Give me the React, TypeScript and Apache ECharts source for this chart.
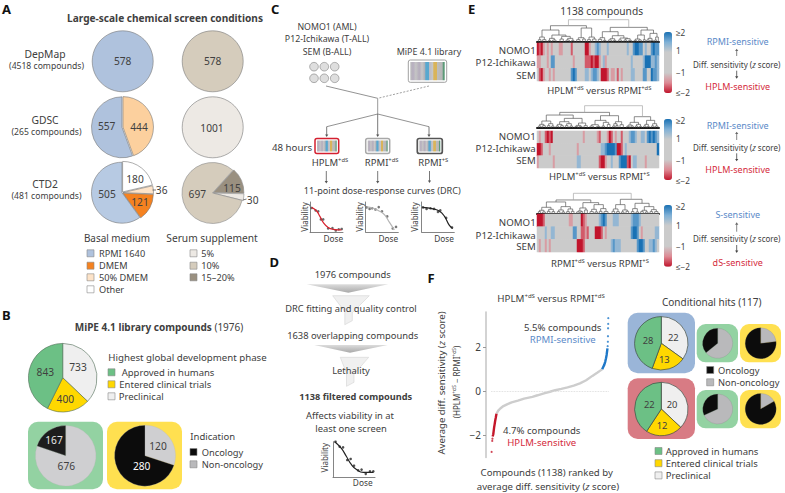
import React, { useEffect, useRef } from "react";
import * as echarts from "echarts";

const FONT = "'Noto Sans', sans-serif";
const INK = "#404040";

// Panel A
const depmapBasal = [578];
const depmapSerum = [578];
const gdscBasal = [444, 557];
const gdscSerum = [1001];
const ctd2Basal = [180, 36, 121, 505];
const ctd2Serum = [115, 30, 697];
const basalLegend = ["RPMI 1640", "DMEM", "50% DMEM", "Other"];
const serumLegend = ["5%", "10%", "15–20%"];
// Panel B
const mipePhase = [733, 400, 843];
const approvedIndication = [676, 167];
const clinicalIndication = [120, 280];
const phaseLegend = ["Approved in humans", "Entered clinical trials", "Preclinical"];
const indicationLegend = ["Oncology", "Non-oncology"];
// Panel C/D dose-response
const drcRedPts = [[5,80],[17,72],[25,69],[33,42],[40,42],[55,12],[68,13],[78,5],[87,9],[96,10]];
const drcRedCurve = [[5,82],[20,70],[30,52],[40,32],[55,15],[70,9],[95,7]];
const drcGrayPts = [[3,82],[12,77],[20,79],[30,75],[40,83],[50,69],[66,52],[83,12],[93,17]];
const drcGrayCurve = [[3,84],[23,79],[43,69],[58,57],[73,32],[88,7]];
const drcDarkPts = [[4,82],[15,77],[27,79],[38,77],[50,67],[57,72],[75,47],[93,15]];
const drcDarkCurve = [[2,82],[35,77],[55,69],[70,52],[85,22],[95,12]];
const drcFilterPts = [[6,100],[16,86],[24,84],[34,48],[42,51],[50,32],[60,19],[68,21],[78,9],[88,16],[96,16]];
const drcFilterCurve = [[4,100],[20,81],[32,58],[44,35],[56,21],[72,13],[96,13]];
// Panel E: one character per clustered column
const heatLevels: Record<string, number> = { ".": 0, a: -1.15, r: -1.6, R: -2, i: 1.15, b: 1.6, B: 2 };
const cellLines = ["NOMO1", "P12-Ichikawa", "SEM"];
const heatA = [
  "RrRa.a.a.." + ".aa....r.." + "....RRa..i" + "bi...i...." + ".....i..bB" + "Bbb.i..bBbb",
  "aa...a.bb." + "........a." + "....rrrRrR" + "Ra.ia....." + ".......i.." + "...iBBBiibi",
  ".rRa..a.a." + ".......bBb" + "....ii.ibb" + "i.RRRr.aa." + "r.a....ii." + "...bb..Bbbi",
];
const heatB = [
  ".a..rRrR.." + ".........." + "...a......" + "ar...aRr.a" + "..r...ibbi" + "..ii.bBbBbi",
  "RRr...a..." + ".........." + "a........." + "..iibBBBBb" + "RRr.i....." + "..........B",
  "a.......a." + ".........." + "ii........" + ".rRRa..i.." + ".bBBBrR.ii" + "....a......",
];
const heatC = [
  "RRRr......" + "......aa.." + "..Rra....." + ".ibBb...ii" + "i......ibb" + "bi.........",
  "....i..ii." + "........bb" + "..rrar...R" + "RRr.a....." + ".......bBB" + "b.a......ii",
  ".a..a.a..." + ".........." + "RRRr......" + ".......ibi" + "ii........" + "bBBb..iibi." ,
];
const treeA: any = [66,
  [48,[35,[14,[6,25,33],[6,38,48]],[20,[10,[4,55,62],[5,68,78]],[16,[8,90,100],[10,[5,108,118],[4,125,132]]]]],
      [41,[12,[6,140,150],[8,158,166]],[14,[6,172,182],[8,188,198]]]],
  [43,[30,[12,[7,205,215],[4,220,228]],[18,[9,[5,235,245],[4,250,258]],[11,[5,265,275],[9,[5,282,290],[4,296,305]]]]],
      [35,[20,[8,[4,312,320],[5,326,334]],[6,340,346]],[25,[10,[5,350,358],[4,362,370]],[14,[5,374,380],385]]]]];
const treeB: any = [66,
  [46,[38,[20,[10,[5,25,33],[6,38,46]],[12,[6,52,60],[5,65,72]]],
          [28,[18,[10,[5,78,86],[6,92,100]],[12,[6,106,114],[5,120,128]]],[14,[7,[4,135,143],[4,148,156]],[6,162,172]]]],
      [36,[22,[9,[5,180,190],[4,200,210]],[16,[5,216,224],[10,232,240]]],[18,[12,[5,248,255],[7,258,264]],[9,270,280]]]],
  [33,[16,[8,[4,290,298],[5,303,310]],[10,[5,316,323],[4,328,335]]],[22,[10,[5,341,348],[4,352,358]],[12,[5,364,372],[5,376,384]]]]];
const treeC: any = [60,
  [40,[34,[18,[9,[5,25,32],[4,38,46]],[12,[6,52,60],[5,66,74]]],[20,[10,[5,82,90],[4,96,104]],[13,[5,110,118],[6,124,132]]]],
      [32,[16,[7,[4,140,148],[5,152,158]],[10,164,172]],[26,[12,[5,180,190],[4,195,203]],[14,[6,208,216],[5,222,234]]]]],
  [42,[26,[13,[6,246,254],[5,260,268]],[10,[4,274,282],[6,288,296]]],[30,[14,[5,304,312],[4,318,326]],[20,[9,[5,332,340],[4,346,354]],[11,[5,360,368],[5,374,384]]]]]];
// Panel F: [rank, average differential sensitivity]
const rankRed = [[16,-2.05],[22,-1.95],[26,-1.8],[30,-1.65],[35,-1.5],[40,-1.35],[46,-1.2],[53,-1.02]];
const rankGray = [[53,-1.02],[70,-0.88],[90,-0.78],[120,-0.67],[160,-0.58],[200,-0.5],[260,-0.42],[320,-0.33],[400,-0.25],[450,-0.18],[520,-0.08],[570,-0.02],[620,0.05],[680,0.11],[740,0.18],[800,0.26],[860,0.36],[920,0.5],[980,0.7],[1030,0.85],[1060,0.95],[1075,1.0]];
const rankBlue = [[1075,1.0],[1085,1.1],[1095,1.2],[1105,1.35],[1112,1.5],[1118,1.65],[1122,1.8],[1126,1.95]];
const rankRedDots = [[6,-2.75],[12,-2.25],[14,-2.15]];
const rankBlueDots = [[1128,2.05],[1130,2.25],[1131,2.5],[1132,2.86],[1133,3.06],[1134,3.32]];
const yTicksF = [-2, 0, 2];
// Panel F pies
const hitsRpmi = [22, 13, 28];
const hitsHplm = [20, 12, 22];
const hitsRpmiApproved = [18, 10];
const hitsRpmiClinical = [3, 10];
const hitsHplmApproved = [15, 7];
const hitsHplmClinical = [2, 10];

const C = {
  blue: "#afc2dd", orange: "#f58220", paleOrange: "#fcd09e", peach: "#fde3c8", white: "#ffffff",
  tan: "#d5ccbc", pale: "#ede9e4", darkTan: "#9a9080",
  green: "#6cc085", yellow: "#ffd800", prec: "#efefef", gray: "#cfcfd1", black: "#0c0c0c",
  bgGreen: "#93d2a2", bgYellow: "#ffe050", bgBlue: "#9ab5d8", bgRed: "#d87b84",
  red: "#d42a3c", sens: "#5b8ac8",
};

function sup(parts: (string | [string])[], size: number, extra: any = {}) {
  const rich = {
    n: { fontSize: size, fontFamily: FONT, fill: extra.fill || INK, fontWeight: extra.fontWeight || "normal" },
    s: { fontSize: size * 0.62, fontFamily: FONT, fill: extra.fill || INK, padding: [0, 0, size * 0.5, 0] },
    i: { fontSize: size, fontFamily: FONT, fill: extra.fill || INK, fontStyle: "italic" },
    b: { fontSize: size, fontFamily: FONT, fill: extra.fill || INK, fontWeight: "bold" },
  };
  const text = parts.map((p) => (Array.isArray(p) ? `{s|${p[0]}}` : p.startsWith("~") ? `{i|${p.slice(1)}}` : p.startsWith("*") ? `{b|${p.slice(1)}}` : `{n|${p}}`)).join("");
  return { text, rich };
}

function txt(x: number, y: number, text: any, o: any = {}) {
  const size = o.size ?? 9.4;
  const style: any = {
    fontSize: size, fontFamily: FONT, fill: o.fill ?? INK, fontWeight: o.weight ?? "normal",
    align: o.align ?? "center", verticalAlign: "middle",
  };
  if (typeof text === "string") style.text = text;
  else { style.text = text.text; style.rich = text.rich; }
  return { type: "text", x, y, rotation: o.rotate ?? 0, z: 100, silent: true, style };
}
const rectEl = (x: number, y: number, w: number, h: number, fill: any, o: any = {}) => ({
  type: "rect", z: o.z ?? -1, silent: true, shape: { x, y, width: w, height: h, r: o.r ?? 0 },
  style: { fill, stroke: o.stroke ?? null, lineWidth: o.lw ?? 0 },
});
const lineEl = (x1: number, y1: number, x2: number, y2: number, stroke = "#777", o: any = {}) => ({
  type: "line", z: 5, silent: true, shape: { x1, y1, x2, y2 },
  style: { stroke, lineWidth: o.lw ?? 0.8, lineDash: o.dash ?? null },
});
const arrow = (x: number, y1: number, y2: number, stroke = "#555") => {
  const d = y2 > y1 ? 1 : -1;
  return [
    lineEl(x, y1, x, y2 - d * 2, stroke),
    { type: "polygon", z: 5, silent: true, shape: { points: [[x - 1.6, y2 - d * 2.4], [x + 1.6, y2 - d * 2.4], [x, y2]] }, style: { fill: stroke } },
  ];
};
const swatch = (x: number, y: number, fill: string, stroke = "#888") => rectEl(x, y - 3.5, 7, 7, fill, { stroke, lw: 0.6, z: 5 });

function plate(x: number, y: number, w: number, h: number, border: string, lw: number) {
  const stops: [number, string][] = [
    [0, "#bdbdbd"], [0.08, "#b7aec0"], [0.16, "#c5c5c5"], [0.26, "#b4acbc"], [0.34, "#c8c8c8"], [0.42, "#b0b0b8"],
    [0.45, "#58a8cf"], [0.53, "#58a8cf"], [0.55, "#b9b9c4"], [0.66, "#c8c8c8"], [0.68, "#d9b45a"], [0.77, "#d9b45a"],
    [0.79, "#bdbdbd"], [0.93, "#b6b6b6"], [0.95, "#5c9a78"], [1, "#5c9a78"],
  ];
  const colorStops = stops.map(([offset, color]) => ({ offset, color }));
  return [
    rectEl(x, y, w, h, "#fff", { r: 2, stroke: border, lw, z: 4 }),
    rectEl(x + 2, y + 2, w - 4, h - 4, new echarts.graphic.LinearGradient(0, 0, 1, 0, colorStops), { z: 5 }),
  ];
}

function funnel(xa: number, xb: number, xt: number, yt: number, yb: number, top: number) {
  const band = new echarts.graphic.LinearGradient(0, 0, 0, 1, [{ offset: 0, color: "#dcdcdc" }, { offset: 1, color: "#a9a9a9" }]);
  return [
    { type: "polygon", z: 3, silent: true, shape: { points: [[xa, top], [xb, top], [xt, yt]] }, style: { fill: band } },
    {
      type: "polygon", z: 3, silent: true,
      shape: { points: [[xa + 26, yb], [xb - 19, yb], [xt + 4, yb + 17], [xt + 4, yb + 25], [xt - 3.5, yb + 29], [xt - 3.5, yb + 16]] },
      style: { fill: "#f0f0f0", stroke: "#d4d4d4", lineWidth: 0.6 },
    },
  ];
}

function flatten(node: any, out: number[][]): [number, number] {
  if (typeof node === "number") return [node, 0];
  const [h, l, r] = node;
  const [xl, hl] = flatten(l, out);
  const [xr, hr] = flatten(r, out);
  out.push([xl, xr, h, hl, hr]);
  return [(xl + xr) / 2, h];
}

export default function App() {
  const ref = useRef<HTMLDivElement>(null);
  useEffect(() => {
    if (!ref.current) return;
    const chart = echarts.init(ref.current, null, { renderer: "svg" });
    const series: any[] = [];
    const grids: any[] = [];
    const xAxes: any[] = [];
    const yAxes: any[] = [];
    const visualMaps: any[] = [];
    const g: any[] = [];

    const pie = (cx: number, cy: number, r: number, values: number[], colors: string[], o: any = {}) => {
      series.push({
        type: "pie", center: [cx, cy], radius: [0, r], startAngle: o.start ?? 90, clockwise: true,
        silent: true, animation: false, label: { show: false }, labelLine: { show: false }, emphasis: { disabled: true },
        selectedMode: "multiple", selectedOffset: o.offset ?? 1,
        select: { itemStyle: { borderColor: o.border ?? "#777", borderWidth: o.lw ?? 0.6 } },
        itemStyle: { borderColor: o.border ?? "#777", borderWidth: o.lw ?? 0.6 },
        data: values.map((value, i) => ({ value, selected: !!(o.sel && o.sel[i]), itemStyle: { color: colors[i] } })),
      });
    };
    const addGrid = (left: number, top: number, width: number, height: number) => {
      grids.push({ left, top, width, height, containLabel: false });
      return grids.length - 1;
    };
    const drc = (left: number, top: number, width: number, height: number, pts: number[][], curve: number[][], col: string, dot: string) => {
      const i = addGrid(left, top, width, height);
      const ax = { type: "value", min: 0, max: 100, splitLine: { show: false }, axisTick: { show: false }, axisLabel: { show: false }, axisLine: { show: true, onZero: false, lineStyle: { color: "#666", width: 0.8 } } };
      xAxes.push({ ...ax, gridIndex: i });
      yAxes.push({ ...ax, gridIndex: i });
      series.push({ type: "line", xAxisIndex: i, yAxisIndex: i, data: curve, smooth: true, showSymbol: false, silent: true, lineStyle: { color: col, width: 1.2 } });
      series.push({ type: "scatter", xAxisIndex: i, yAxisIndex: i, data: pts, symbolSize: 2.6, silent: true, itemStyle: { color: dot } });
    };
    const heat = (top: number, rows: string[], height: number, barTop: number, barH: number) => {
      const i = addGrid(537, top, 122, height);
      const cols = rows[0].split("").map((_, c) => String(c));
      const cat = { type: "category", show: false, splitLine: { show: false } };
      xAxes.push({ ...cat, gridIndex: i, data: cols });
      yAxes.push({ ...cat, gridIndex: i, data: [...cellLines].reverse() });
      const data: number[][] = [];
      rows.forEach((row, r) => row.split("").forEach((ch, c) => data.push([c, 2 - r, heatLevels[ch]])));
      visualMaps.push({
        type: "continuous", min: -2, max: 2, calculable: false, hoverLink: false, padding: 0, itemWidth: 8, itemHeight: barH,
        left: 664, top: barTop, seriesIndex: series.length, text: null, textStyle: { fontSize: 0 }, showLabel: false,
        inRange: { color: ["#c1152c", "#dd8a94", "#cbcbcb", "#cbcbcb", "#cbcbcb", "#7fb0d6", "#1a71b4"] },
      });
      series.push({ type: "heatmap", xAxisIndex: i, yAxisIndex: i, data, silent: true, progressive: 0, itemStyle: { borderWidth: 0 }, emphasis: { disabled: true } });
    };
    const dendro = (base: number, tree: any) => {
      const H = 22;
      const i = addGrid(537, base - H, 122, H);
      xAxes.push({ type: "value", gridIndex: i, min: 21, max: 387, splitLine: { show: false }, axisTick: { show: false }, axisLabel: { show: false }, axisLine: { show: true, lineStyle: { color: "#1a1a1a", width: 2 } } });
      yAxes.push({ type: "value", gridIndex: i, min: 0, max: 66, show: false, splitLine: { show: false } });
      const links: number[][] = [];
      flatten(tree, links);
      series.push({
        type: "custom", xAxisIndex: i, yAxisIndex: i, silent: true, data: links, clip: false,
        encode: { x: [0, 1], y: [2] },
        renderItem: (_: any, api: any) => {
          const p = (x: number, h: number) => api.coord([x, h]);
          const xl = api.value(0), xr = api.value(1), h = api.value(2), hl = api.value(3), hr = api.value(4);
          return {
            type: "polyline",
            shape: { points: [p(xl, hl), p(xl, h), p(xr, h), p(xr, hr)] },
            style: { fill: "none", stroke: h >= 55 ? "#a8a8a8" : "#5a5a5a", lineWidth: 0.7 },
          };
        },
      });
    };

    // ---------- Panel A
    g.push(txt(2, 9, "A", { size: 13, weight: "bold", align: "left", fill: "#111" }));
    g.push(txt(165, 18, "Large-scale chemical screen conditions", { size: 10.1, weight: "bold" }));
    const names: [string, string, number][] = [["DepMap", "(4518 compounds)", 54], ["GDSC", "(265 compounds)", 120], ["CTD2", "(481 compounds)", 184]];
    names.forEach(([a, b, y]) => { g.push(txt(45, y, a, { size: 10.3 })); g.push(txt(46.5, y + 12, b, { size: 8.6 })); });
    pie(122.7, 61.3, 30.5, depmapBasal, [C.blue]);
    pie(212.7, 61.3, 30.5, depmapSerum, [C.tan]);
    pie(122, 127.3, 30.5, gdscBasal, [C.paleOrange, C.blue], { sel: [true, false] });
    pie(212.7, 127.3, 30.5, gdscSerum, [C.pale]);
    pie(122, 192.7, 30.5, ctd2Basal, [C.white, C.peach, C.orange, "#b7cae3"], { sel: [true, true, true, false] });
    pie(212.5, 193, 30.5, ctd2Serum, [C.darkTan, C.pale, C.tan], { start: 48, sel: [true, true, false], border: "#8a8a8a" });
    const num = (x: number, y: number, v: number, o: any = {}) => g.push(txt(x, y, String(v), { size: 10.2, ...o }));
    num(122.7, 61, depmapBasal[0]); num(212.7, 61, depmapSerum[0]);
    num(106.7, 126, gdscBasal[1]); num(139, 127, gdscBasal[0]); num(212, 127.7, gdscSerum[0]);
    num(135, 179, ctd2Basal[0]); num(161.7, 190, ctd2Basal[1]); num(140, 202, ctd2Basal[2]); num(107, 194, ctd2Basal[3]);
    num(197.3, 194, ctd2Serum[2]); num(232, 188, ctd2Serum[0]); num(252.7, 200, ctd2Serum[1]);
    g.push(lineEl(152.5, 190, 156, 190, "#555"), lineEl(243, 200, 246.5, 199, "#555"));
    g.push(txt(117, 237.7, "Basal medium", { size: 9.9 }), txt(212, 238, "Serum supplement", { size: 10.2 }));
    const rowsA = [253.3, 265.7, 277.3, 289.3];
    [C.blue, C.orange, C.peach, C.white].forEach((c, i) => { g.push(swatch(87, rowsA[i], c)); g.push(txt(99, rowsA[i], basalLegend[i], { align: "left", size: 9.2 })); });
    [C.pale, C.tan, C.darkTan].forEach((c, i) => { g.push(swatch(190, rowsA[i], c)); g.push(txt(201.3, rowsA[i], serumLegend[i], { align: "left", size: 9.2 })); });

    // ---------- Panel B
    g.push(txt(2, 315, "B", { size: 13, weight: "bold", align: "left", fill: "#111" }));
    g.push(txt(159, 327.3, sup(["*MiPE 4.1 library compounds", " (1976)"], 10), { size: 10 }));
    pie(62.7, 377.7, 34.3, mipePhase, [C.prec, C.yellow, C.green], { border: "#4f6b55" });
    num(78, 367, mipePhase[0]); num(65.3, 399.3, mipePhase[1]); num(45.3, 372.3, mipePhase[2]);
    g.push(txt(108.3, 357.3, "Highest global development phase", { size: 9.7, align: "left" }));
    const phaseX = [121.7, 119.3, 118.7];
    [C.green, C.yellow, C.prec].forEach((c, i) => { g.push(swatch(108, 372.3 + i * 12, c)); g.push(txt(phaseX[i], 372.3 + i * 12, phaseLegend[i], { align: "left", size: 9.5 })); });
    g.push(rectEl(28, 421.7, 75, 67.6, C.bgGreen, { r: 10 }), rectEl(107, 421.7, 75, 67.6, C.bgYellow, { r: 10 }));
    pie(65.7, 455.7, 30.3, approvedIndication, [C.gray, "#1d1d1d"], { border: "#b9b9b9", lw: 0.3 });
    pie(145, 455.7, 30.5, clinicalIndication, [C.gray, C.black], { border: "#b9b9b9", lw: 0.3 });
    num(54, 440.3, approvedIndication[1], { fill: "#e8e8e8" }); num(66.3, 465.7, approvedIndication[0]);
    num(158, 446, clinicalIndication[0]); num(141.7, 465.7, clinicalIndication[1], { fill: "#fff" });
    g.push(txt(190.3, 436.7, "Indication", { size: 9.5, align: "left" }));
    [C.black, "#b9b9bb"].forEach((c, i) => { g.push(swatch(190, 452 + i * 12.3, c)); g.push(txt(201.7, 452 + i * 12.3, indicationLegend[i], { align: "left", size: 9.3 })); });

    // ---------- Panel C
    g.push(txt(271, 9, "C", { size: 13, weight: "bold", align: "left", fill: "#111" }));
    g.push(txt(327, 27, "NOMO1 (AML)", { size: 8.8 }), txt(327, 39.3, "P12-Ichikawa (T-ALL)", { size: 8.8 }), txt(327, 52, "SEM (B-ALL)", { size: 8.8 }), txt(429, 51.7, "MiPE 4.1 library", { size: 8.9 }));
    [314, 324.3, 334.7].forEach((x) => [66.7, 78.3].forEach((y) => g.push({ type: "circle", z: 4, silent: true, shape: { cx: x, cy: y, r: 4.3 }, style: { fill: "#dedede", stroke: "#8c8c8c", lineWidth: 0.7 } })));
    g.push(...plate(408.3, 60, 38.4, 22.3, "#a0a0a0", 1));
    g.push(lineEl(326, 86, 377.7, 98.3), lineEl(429, 86, 377.7, 98.3, "#888", { dash: [2, 1.5] }), lineEl(377.7, 98.3, 377.7, 114, "#999", { lw: 1 }));
    g.push(lineEl(377.7, 114, 326.7, 126.7), lineEl(377.7, 114, 429, 126.7));
    g.push(...arrow(326.7, 126.7, 137), ...arrow(377.7, 114, 137), ...arrow(429, 126.7, 137));
    g.push(...plate(315, 138.5, 23.7, 15, "#d42030", 1.5), ...plate(365.7, 138.5, 24, 15, "#a8a8a8", 1.5), ...plate(417.3, 138.5, 25, 15, "#555", 1.7));
    g.push(txt(272, 147.7, "48 hours", { size: 9.7, align: "left" }));
    g.push(txt(330, 162.7, sup(["HPLM", ["+dS"]], 9.5)));
    g.push(txt(381.7, 162.7, sup(["RPMI", ["+dS"]], 9.5)));
    g.push(txt(433.3, 162.7, sup(["RPMI", ["+S"]], 9.5)));
    g.push(...arrow(326.3, 171, 183.5), ...arrow(377.7, 171, 183.5), ...arrow(429.5, 171, 183));
    g.push(txt(382.3, 190, "11-point dose-response curves (DRC)", { size: 9.1 }));
    drc(310, 202, 33, 30, drcRedPts, drcRedCurve, "#d8202c", "#444");
    drc(365.7, 202, 32.6, 30, drcGrayPts, drcGrayCurve, "#b4b4b4", "#555");
    drc(421.7, 202, 32.6, 30, drcDarkPts, drcDarkCurve, "#222", "#333");
    ([[304.3, 333.3], [359, 388.3], [414.3, 444]] as number[][]).forEach(([vx, dx]) => {
      g.push(txt(vx, 217, "Viability", { size: 8, rotate: Math.PI / 2 }));
      g.push(txt(dx, 238.7, "Dose", { size: 8.3 }));
    });

    // ---------- Panel D
    g.push(txt(269.5, 261.7, "D", { size: 13, weight: "bold", align: "left", fill: "#111" }));
    g.push(...funnel(306.7, 388.3, 348.3, 292.7, 295.7, 284.3), ...funnel(314.3, 387.7, 350, 352.7, 357.3, 345));
    g.push(txt(352.7, 274.7, "1976 compounds"), txt(351, 308.7, "DRC fitting and quality control", { size: 9.3 }), txt(352.7, 335, "1638 overlapping compounds"));
    g.push(txt(351, 370.7, "Lethality"), txt(355.7, 396, "1138 filtered compounds", { weight: "bold", size: 9.2 }));
    g.push(txt(350, 415.7, "Affects viability in at"), txt(351, 428.3, "least one screen"));
    drc(333, 441.7, 42, 35.3, drcFilterPts, drcFilterCurve, "#222", "#222");
    g.push(txt(324.3, 457.7, "Viability", { size: 8, rotate: Math.PI / 2 }), txt(362.7, 482.7, "Dose", { size: 8.3 }));

    // ---------- Panel E
    g.push(txt(468, 8.5, "E", { size: 13, weight: "bold", align: "left", fill: "#111" }));
    g.push(txt(601.7, 10.7, "1138 compounds", { size: 10.2 }));
    dendro(41.7, treeA); dendro(127.7, treeB); dendro(213.3, treeC);
    heat(43, heatA, 38, 32, 61);
    heat(131, heatB, 37, 119, 61);
    heat(214, heatC, 38, 205, 61.7);
    const rowY = [[50, 62.3, 75], [136.7, 148.3, 160.7], [222.7, 235, 246.7]];
    rowY.forEach((ys) => ys.forEach((y, i) => g.push(txt(535.7, y, cellLines[i], { align: "right", size: 9.7 }))));
    const cbar = [[32.7, 50.7, 72.3, 92], [120, 138.3, 160, 180], [206.7, 225, 246.7, 266]];
    const cbarText = ["≥2", "1", "−1", "≤−2"];
    cbar.forEach((ys) => ys.forEach((y, i) => g.push(txt(676, y, cbarText[i], { align: "left", size: 8.2 }))));
    g.push(txt(599.3, 90.7, sup(["HPLM", ["+dS"], " versus RPMI", ["+dS"]], 9.5)));
    g.push(txt(599.3, 176.7, sup(["HPLM", ["+dS"], " versus RPMI", ["+S"]], 9.5)));
    g.push(txt(600, 263, sup(["RPMI", ["+dS"], " versus RPMI", ["+S"]], 9.5)));
    const diff = sup(["Diff. sensitivity (", "~z", " score)"], 8);
    const side: [string, string, number, number, number, number, number, number][] = [
      ["RPMI-sensitive", "HPLM-sensitive", 41.7, 86.7, 64.3, 56, 48.7, 70.7],
      ["RPMI-sensitive", "HPLM-sensitive", 125, 169.3, 147.3, 140, 131.7, 153.3],
      ["S-sensitive", "dS-sensitive", 214.3, 262.3, 238.7, 231.7, 222.3, 245],
    ];
    side.forEach(([up, dn, y1, y2, ym, a1, a2, a3]) => {
      g.push(txt(737.7, y1, up, { fill: C.sens, size: 9 }), txt(737.7, y2, dn, { fill: C.red, size: 9 }));
      g.push(txt(736.7, ym, diff));
      g.push(...arrow(736.7, a1, a2, "#666"), ...arrow(736.7, a3, a3 + 8, "#444"));
    });

    // ---------- Panel F
    g.push(txt(427.5, 278.3, "F", { size: 13, weight: "bold", align: "left", fill: "#111" }));
    g.push(txt(551, 298.3, sup(["HPLM", ["+dS"], " versus RPMI", ["+dS"]], 9.8)));
    {
      const i = addGrid(491, 312, 117.7, 145.4);
      xAxes.push({ type: "value", gridIndex: i, min: 0, max: 1138, show: false, splitLine: { show: false } });
      yAxes.push({
        type: "value", gridIndex: i, min: -3, max: 3.6, offset: 5, splitLine: { show: false },
        axisLine: { show: true, onZero: false, lineStyle: { color: "#c4c4c4", width: 1.5 } },
        axisTick: { show: true, length: 3, lineStyle: { color: "#999" }, customValues: yTicksF },
        axisLabel: { show: true, customValues: yTicksF, margin: 5, fontSize: 10, fontFamily: FONT, color: INK, formatter: (v: number) => String(v).replace("-", "−") },
      });
      const ln = (data: number[][], color: string, extra: any = {}) => series.push({ type: "line", xAxisIndex: i, yAxisIndex: i, data, showSymbol: false, silent: true, lineStyle: { color, width: 2.4 }, ...extra });
      const pt = (data: number[][], color: string) => series.push({ type: "scatter", xAxisIndex: i, yAxisIndex: i, data, symbolSize: 2.2, silent: true, itemStyle: { color } });
      ln(rankGray, "#cdcdcd", { z: 2, markLine: { silent: true, symbol: "none", label: { show: false }, lineStyle: { color: "#d4d4d4", type: "dotted", width: 0.8 }, data: [{ yAxis: 0 }] } });
      ln(rankRed, "#c4162a", { z: 3 });
      ln(rankBlue, "#1f78c8", { z: 3 });
      pt(rankRedDots, "#c4162a");
      pt(rankBlueDots, "#1f78c8");
    }
    g.push(txt(562.7, 327, "5.5% compounds", { size: 9.6 }), txt(562.7, 339.7, "RPMI-sensitive", { fill: C.sens, size: 9.6 }));
    g.push(txt(541.7, 430, "4.7% compounds", { size: 9.6 }), txt(541.7, 442.7, "HPLM-sensitive", { fill: C.red, size: 9.6 }));
    g.push(txt(441, 383, sup(["Average diff. sensitivity (", "~z", " score)"], 9.6), { rotate: Math.PI / 2 }));
    g.push(txt(456, 382, sup(["(HPLM", ["+dS"], " − RPMI", ["+dS"], ")"], 8), { rotate: Math.PI / 2 }));
    g.push(txt(546.7, 472.7, "Compounds (1138) ranked by", { size: 9.6 }));
    g.push(txt(548, 486.7, sup(["average diff. sensitivity (", "~z", " score)"], 9.6)));

    g.push(txt(711.7, 302, "Conditional hits (117)", { size: 10 }));
    g.push(rectEl(627.7, 312.7, 67.3, 60.6, C.bgBlue, { r: 10 }), rectEl(627.7, 378.3, 67.3, 60.7, C.bgRed, { r: 10 }));
    pie(661.3, 343.3, 26.7, hitsRpmi, [C.prec, C.yellow, C.green], { border: "#3f4a44", lw: 0.7 });
    pie(661.3, 409, 26.7, hitsHplm, [C.prec, C.yellow, C.green], { border: "#3f4a44", lw: 0.7 });
    num(648, 340.3, hitsRpmi[2], { size: 9.4 }); num(673.3, 337.3, hitsRpmi[0], { size: 9.4 }); num(664.3, 359.3, hitsRpmi[1], { size: 9.4 });
    num(649.3, 404, hitsHplm[2], { size: 9.4 }); num(672, 404, hitsHplm[0], { size: 9.4 }); num(662, 425, hitsHplm[1], { size: 9.4 });
    g.push(rectEl(696.7, 324, 41.3, 38.3, C.bgGreen, { r: 9 }), rectEl(740, 324, 41, 38.3, C.bgYellow, { r: 9 }));
    g.push(rectEl(696.7, 390, 41.3, 38.3, C.bgGreen, { r: 9 }), rectEl(740, 390, 41, 38.3, C.bgYellow, { r: 9 }));
    const small = { border: "#777", lw: 0.2 };
    pie(717.7, 343.3, 15, hitsRpmiApproved, ["#b9b9bb", C.black], small);
    pie(760.7, 343.3, 15.5, hitsRpmiClinical, ["#b9b9bb", C.black], small);
    pie(717.7, 409, 15, hitsHplmApproved, ["#b9b9bb", C.black], small);
    pie(760.7, 409, 15.5, hitsHplmClinical, ["#b9b9bb", C.black], small);
    [C.black, "#b9b9bb"].forEach((c, i) => { g.push(swatch(706.7, 370 + i * 12.3, c)); g.push(txt(718, 370 + i * 12.3, indicationLegend[i], { align: "left", size: 9.3 })); });
    [C.green, C.yellow, C.prec].forEach((c, i) => { g.push(swatch(655, 451 + i * 12.2, c)); g.push(txt(665.7, 451 + i * 12.2, phaseLegend[i], { align: "left", size: 9.5 })); });

    chart.setOption({
      animation: false,
      backgroundColor: "#ffffff",
      tooltip: { show: false },
      grid: grids,
      xAxis: xAxes,
      yAxis: yAxes,
      visualMap: visualMaps,
      series,
      graphic: { elements: g },
    });
    return () => chart.dispose();
  }, []);
  return <div ref={ref} style={{ position: "absolute", left: 0, top: 0, width: 785, height: 493 }} />;
}
